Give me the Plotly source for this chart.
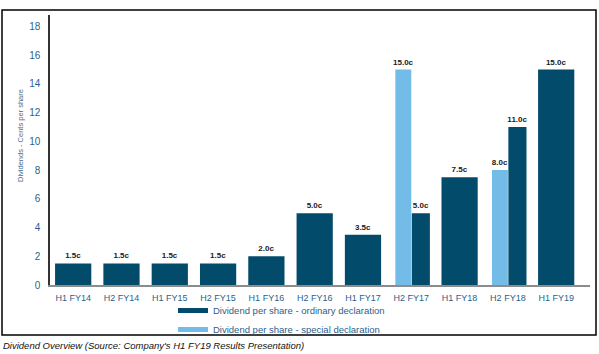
import plotly.graph_objects as go

categories = ["H1 FY14", "H2 FY14", "H1 FY15", "H2 FY15", "H1 FY16", "H2 FY16",
              "H1 FY17", "H2 FY17", "H1 FY18", "H2 FY18", "H1 FY19"]
ordinary = [1.5, 1.5, 1.5, 1.5, 2.0, 5.0, 3.5, 5.0, 7.5, 11.0, 15.0]
special = [None, None, None, None, None, None, None, 15.0, None, 8.0, None]
y_ticks = [0, 2, 4, 6, 8, 10, 12, 14, 16, 18]

DARK = "#034B6B"
LIGHT = "#74BCE8"
TICK_COLOR = "#2B5F8E"

W, H = 599, 354
L, R, T, B = 50, 9, 15, 69
PW, PH = W - L - R, H - T - B


def px_x(px):
    return (px - L) / PW


def px_y(py):
    return (H - B - py) / PH


x_idx = list(range(len(categories)))

ord_width, ord_offset = [], []
spc_width, spc_offset = [], []
for s in special:
    if s is None:
        ord_width.append(0.75)
        ord_offset.append(-0.375)
    else:
        ord_width.append(0.375)
        ord_offset.append(0.01)
    spc_width.append(0.33)
    spc_offset.append(-0.33)

label_font = dict(family="Liberation Sans", size=8, color="#1a1a1a")

fig = go.Figure()
fig.add_trace(go.Bar(
    x=x_idx, y=ordinary, width=ord_width, offset=ord_offset,
    marker=dict(color=DARK, line=dict(width=0)),
    text=[f"<b>{v:.1f}c</b>" for v in ordinary], textposition="outside",
    textfont=label_font, constraintext="none", cliponaxis=False,
    showlegend=False, hoverinfo="skip",
))
fig.add_trace(go.Bar(
    x=x_idx, y=special, width=spc_width, offset=spc_offset,
    marker=dict(color=LIGHT, line=dict(width=0)),
    text=[f"<b>{v:.1f}c</b>" if v is not None else "" for v in special],
    textposition="outside", textfont=label_font, constraintext="none",
    cliponaxis=False, showlegend=False, hoverinfo="skip",
))
# legend entries
fig.add_trace(go.Scatter(x=[None], y=[None], mode="lines",
                         line=dict(color=DARK, width=5),
                         name="Dividend per share - ordinary declaration"))
fig.add_trace(go.Scatter(x=[None], y=[None], mode="lines",
                         line=dict(color=LIGHT, width=5),
                         name="Dividend per share - special declaration"))

fig.update_layout(
    width=W, height=H,
    margin=dict(l=L, r=R, t=T, b=B, pad=0, autoexpand=False),
    paper_bgcolor="white", plot_bgcolor="white",
    barmode="overlay",
    font=dict(family="Liberation Sans", size=9, color=TICK_COLOR),
    legend=dict(
        xref="container", yref="container",
        x=173 / W, y=1 - 296 / H, xanchor="left", yanchor="top",
        orientation="v", bgcolor="rgba(0,0,0,0)",
        font=dict(family="Liberation Sans", size=9.5, color=TICK_COLOR),
        tracegroupgap=0, itemwidth=30,
    ),
    xaxis=dict(
        range=[-0.48, 10.7], tickmode="array", tickvals=x_idx, ticktext=categories,
        showgrid=False, zeroline=False, showline=True, linecolor="#8c8c8c",
        linewidth=2, ticks="outside", ticklen=3, tickcolor="rgba(0,0,0,0)",
        tickfont=dict(family="Liberation Sans", size=9, color=TICK_COLOR),
        fixedrange=True,
    ),
    yaxis=dict(
        range=[0, 18.8], tickmode="array", tickvals=y_ticks,
        showgrid=False, zeroline=False, showline=True, linecolor="#333333",
        linewidth=1.5, ticks="outside", ticklen=6, tickcolor="rgba(0,0,0,0)",
        tickfont=dict(family="Liberation Sans", size=10, color=TICK_COLOR),
        fixedrange=True,
    ),
    shapes=[dict(type="rect", xref="paper", yref="paper",
                 x0=px_x(2), x1=px_x(596), y0=px_y(335), y1=px_y(10),
                 line=dict(color="black", width=1.5), fillcolor="rgba(0,0,0,0)",
                 layer="below")],
    annotations=[
        dict(text="Dividends - Cents per share", xref="paper", yref="paper",
             x=px_x(20), y=px_y(136), textangle=-90, showarrow=False,
             xanchor="center", yanchor="middle",
             font=dict(family="Liberation Sans", size=7.5, color="#4A6F8F")),
        dict(text="<i>Dividend Overview (Source: Company's H1 FY19 Results Presentation)</i>",
             xref="paper", yref="paper", x=px_x(1), y=px_y(345),
             xanchor="left", yanchor="middle", showarrow=False,
             font=dict(family="Liberation Sans", size=9.5, color="#111111")),
    ],
)

fig.write_html("out.html")
